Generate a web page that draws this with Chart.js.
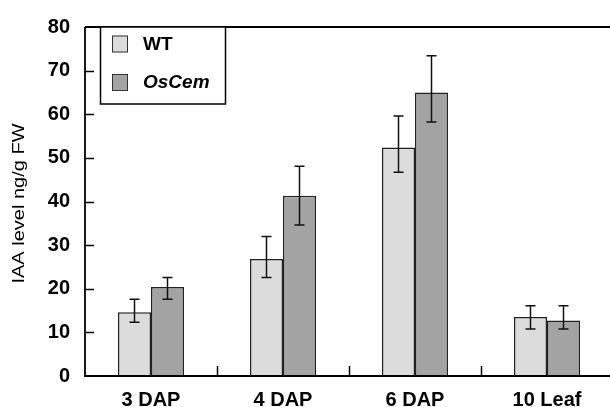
<!DOCTYPE html>
<html>
<head>
<meta charset="utf-8">
<script src="https://cdn.jsdelivr.net/npm/chart.js@4/dist/chart.umd.min.js"></script>
<style>
html,body{margin:0;padding:0;overflow:hidden;background:#fff;}
#wrap{width:614px;height:407px;position:relative;}
</style>
</head>
<body>
<div id="wrap"><canvas id="c"></canvas></div>
<script>
const categories = ['3 DAP', '4 DAP', '6 DAP', '10 Leaf'];
const seriesNames = ['WT', 'OsCem'];
const wtValues = [14.6, 26.8, 52.4, 13.5];
const wtErrHigh = [17.6, 32.0, 59.6, 16.1];
const wtErrLow = [12.3, 22.6, 46.7, 10.8];
const osValues = [20.4, 41.3, 65.0, 12.7];
const osErrHigh = [22.6, 48.1, 73.4, 16.1];
const osErrLow = [17.6, 34.6, 58.2, 10.8];
const yTicks = [0, 10, 20, 30, 40, 50, 60, 70, 80];
const yTitle = 'IAA level ng/g FW';
const errHigh = [wtErrHigh, osErrHigh];
const errLow = [wtErrLow, osErrLow];

const FONT = "'Liberation Sans', Arial, Helvetica, sans-serif";

const framePlugin = {
  id: 'frame',
  afterDatasetsDraw(chart) {
    const ctx = chart.ctx, a = chart.chartArea;
    const xs = chart.scales.x, ys = chart.scales.y;
    ctx.save();
    // error bars
    ctx.strokeStyle = '#111';
    ctx.lineWidth = 1.5;
    chart.data.datasets.forEach((ds, di) => {
      const meta = chart.getDatasetMeta(di);
      meta.data.forEach((bar, i) => {
        const x = bar.x;
        const yh = ys.getPixelForValue(errHigh[di][i]);
        const yl = ys.getPixelForValue(errLow[di][i]);
        ctx.beginPath();
        ctx.moveTo(x, yh); ctx.lineTo(x, yl);
        ctx.moveTo(x - 5, yh); ctx.lineTo(x + 5, yh);
        ctx.moveTo(x - 5, yl); ctx.lineTo(x + 5, yl);
        ctx.stroke();
      });
    });
    // axes
    ctx.strokeStyle = '#000';
    ctx.lineWidth = 1.8;
    ctx.beginPath();
    ctx.moveTo(a.left, a.top); ctx.lineTo(a.right + 5, a.top);
    ctx.moveTo(a.left, a.top); ctx.lineTo(a.left, a.bottom);
    ctx.lineTo(a.right + 5, a.bottom);
    ctx.stroke();
    ctx.lineWidth = 1.5;
    ctx.beginPath();
    yTicks.forEach(v => {
      if (v === 0 || v === 80) return;
      const y = Math.round(ys.getPixelForValue(v)) + 0.5;
      ctx.moveTo(a.left, y); ctx.lineTo(a.left + 9, y);
    });
    for (let i = 1; i <= categories.length; i++) {
      const x = Math.round((xs.getPixelForValue(i - 1) + xs.getPixelForValue(Math.min(i, categories.length - 1)) ) / 2);
      const xx = i < categories.length ? x : a.right;
      ctx.moveTo(xx + 0.5, a.bottom); ctx.lineTo(xx + 0.5, a.bottom - 10);
    }
    ctx.stroke();
    // legend
    ctx.lineWidth = 1.5;
    ctx.strokeStyle = '#000';
    ctx.fillStyle = '#fff';
    ctx.fillRect(100, a.top, 125, 77);
    ctx.strokeRect(100.5, a.top, 125, 77);
    const cols = [chart.data.datasets[0].backgroundColor, chart.data.datasets[1].backgroundColor];
    const ys2 = [43.5, 82];
    ctx.lineWidth = 1;
    ctx.strokeStyle = '#333';
    for (let k = 0; k < 2; k++) {
      ctx.fillStyle = cols[k];
      ctx.fillRect(112, ys2[k] - 8, 16, 17);
      ctx.strokeRect(112.5, ys2[k] - 7.5, 15, 16);
      ctx.fillStyle = '#000';
      ctx.font = (k === 1 ? 'italic ' : '') + 'bold 19px ' + FONT;
      ctx.textBaseline = 'middle';
      ctx.textAlign = 'left';
      ctx.fillText(seriesNames[k], 143, ys2[k] + 1);
    }
    // y title
    ctx.translate(20, (a.top + a.bottom) / 2 + 2);
    ctx.rotate(-Math.PI / 2);
    ctx.scale(1.25, 1);
    ctx.font = '16px ' + FONT;
    ctx.fillStyle = '#000';
    ctx.textAlign = 'center';
    ctx.textBaseline = 'middle';
    ctx.fillText(yTitle, 0, 0);
    ctx.restore();
  }
};

new Chart(document.getElementById('c'), {
  type: 'bar',
  data: {
    labels: categories,
    datasets: [
      { label: seriesNames[0], data: wtValues, backgroundColor: '#dcdcdc', borderColor: '#222', borderWidth: 1.5 },
      { label: seriesNames[1], data: osValues, backgroundColor: '#a3a3a3', borderColor: '#222', borderWidth: 1.5 }
    ]
  },
  options: {
    responsive: true,
    maintainAspectRatio: false,
    animation: false,
    layout: { padding: { top: 24, right: 1, left: 0, bottom: 0 } },
    datasets: { bar: { categoryPercentage: 0.5, barPercentage: 1.0 } },
    plugins: { legend: { display: false }, tooltip: { enabled: false } },
    scales: {
      x: {
        grid: { display: false, drawTicks: false },
        border: { display: false },
        ticks: { color: '#000', font: { family: FONT, size: 20, weight: 'bold' }, padding: 12, maxRotation: 0 },
        afterFit: s => { s.height = 31; }
      },
      y: {
        min: 0, max: 80,
        afterBuildTicks: s => { s.ticks = yTicks.map(v => ({ value: v })); },
        grid: { display: false, drawTicks: false },
        border: { display: false },
        ticks: { color: '#000', font: { family: FONT, size: 20, weight: 'bold' }, padding: 15 },
        afterFit: s => { s.width = 85; }
      }
    }
  },
  plugins: [framePlugin]
});
</script>
</body>
</html>
